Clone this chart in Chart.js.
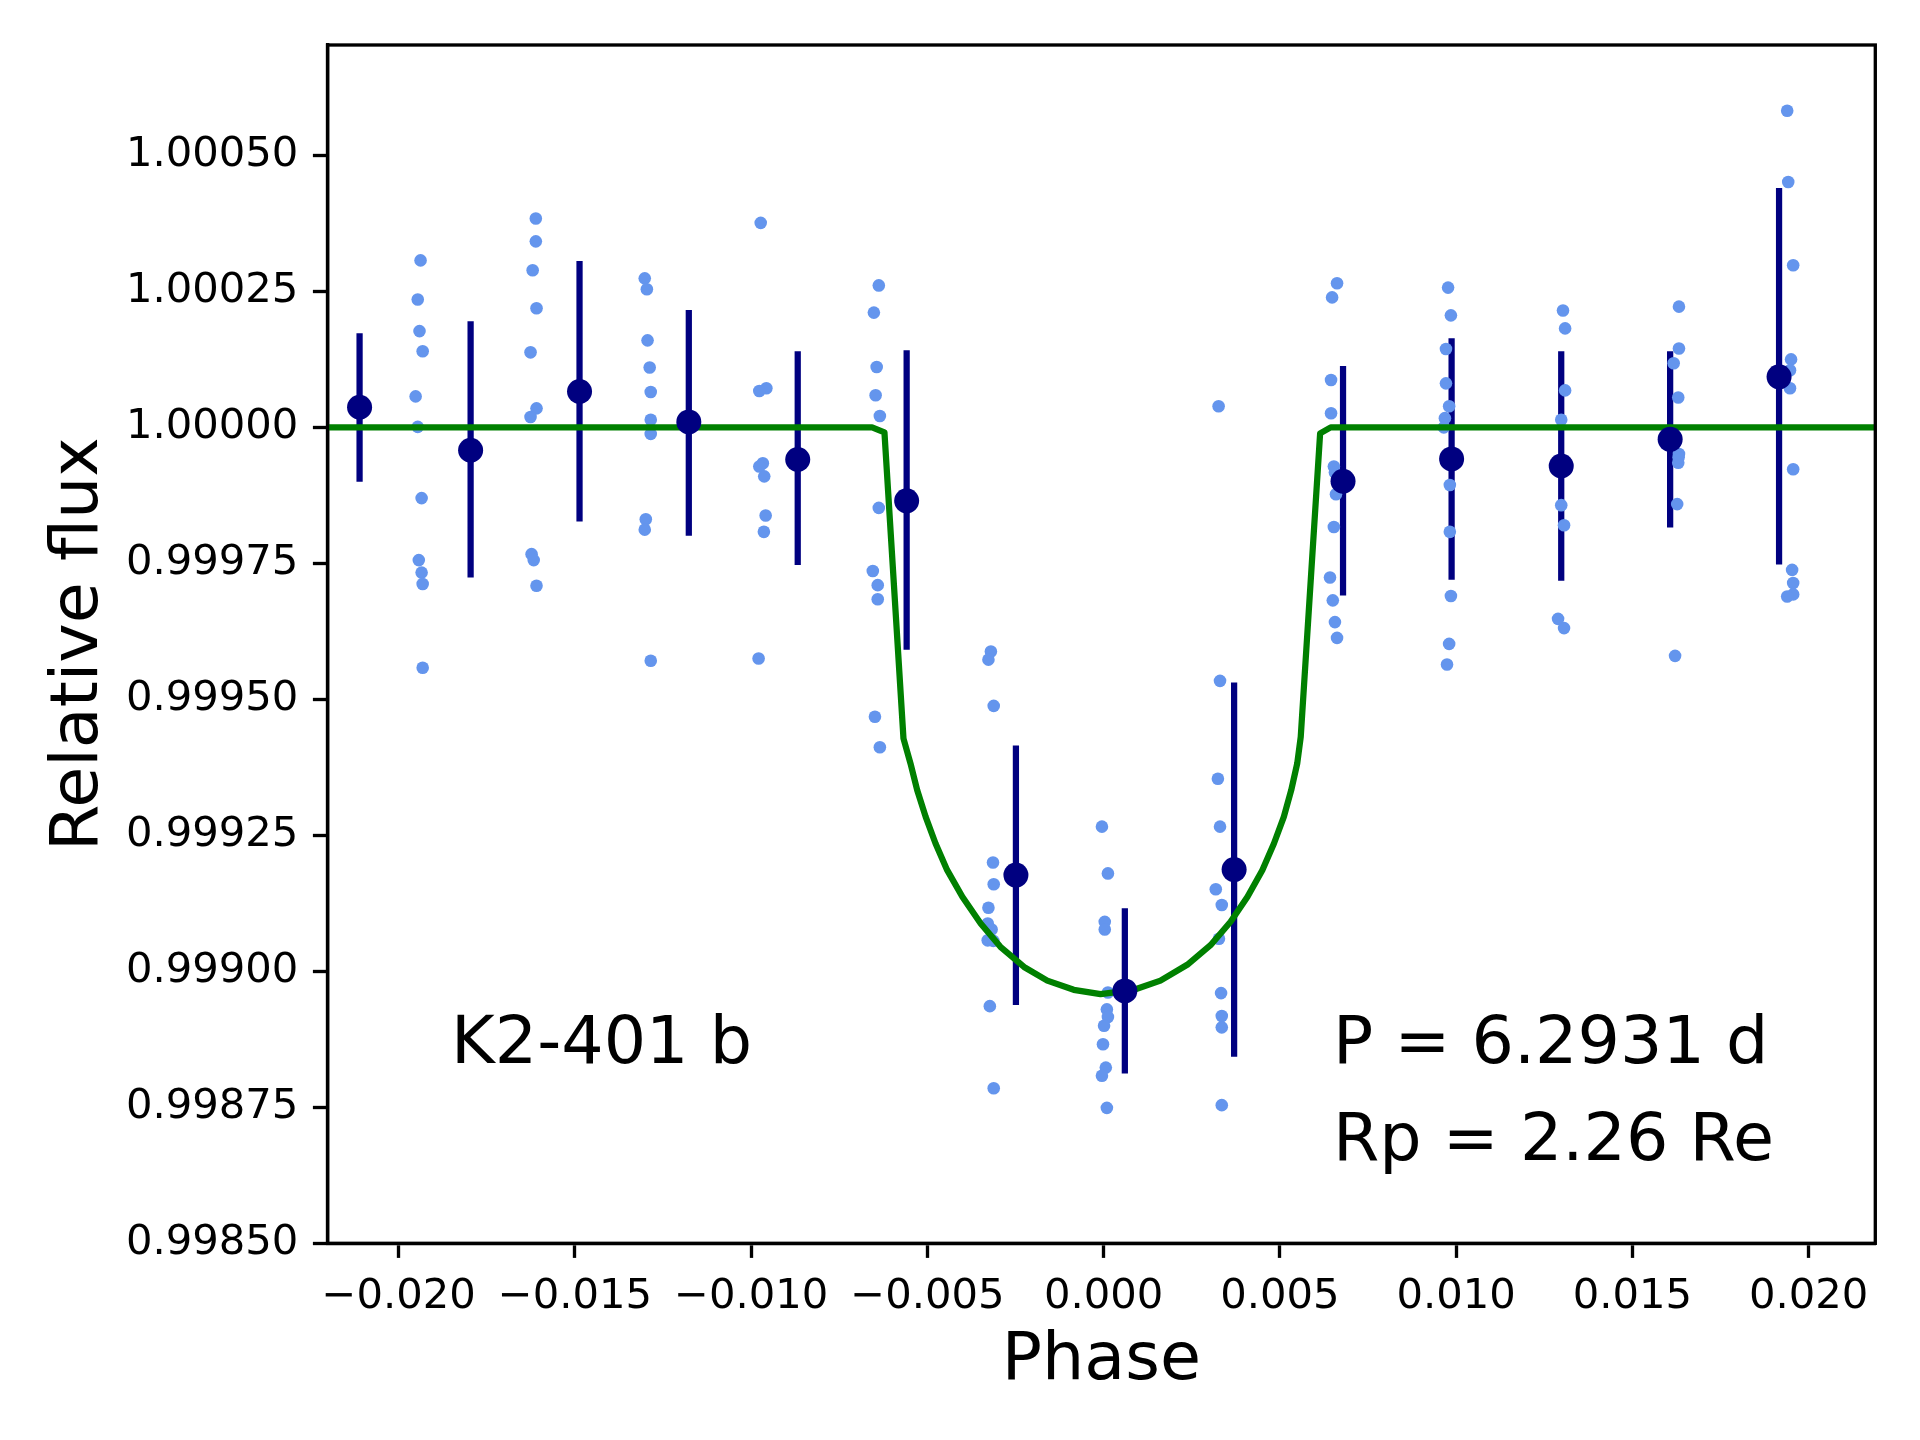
<!DOCTYPE html>
<html>
<head>
<meta charset="utf-8">
<script src="https://cdn.jsdelivr.net/npm/chart.js@4.4.1/dist/chart.umd.min.js"></script>
<style>html,body{margin:0;padding:0;background:#fff}canvas{display:block}</style>
</head>
<body>
<canvas id="lc" width="1920" height="1440" style="width:1920px;height:1440px"></canvas>
<script>
// K2-401 b folded light curve
const xTicks=[-0.02,-0.015,-0.01,-0.005,0,0.005,0.01,0.015,0.02];
const yTicks=[0.9985,0.99875,0.999,0.99925,0.9995,0.99975,1,1.00025,1.0005];

// individual points (light blue)
const ptPhase=[
 -0.01938,-0.01946,-0.01941,-0.01932,-0.01952,-0.01946,-0.01935,-0.01943,-0.01935,-0.01932,-0.01932,
 -0.01611,-0.01611,-0.01620,-0.01609,-0.01626,-0.01609,-0.01626,-0.01623,-0.01617,-0.01609,
 -0.01302,-0.01296,-0.01294,-0.01288,-0.01285,-0.01285,-0.01285,-0.01299,-0.01302,-0.01285,
 -0.00973,-0.00957,-0.00977,-0.00967,-0.00977,-0.00963,-0.00959,-0.00964,-0.00979,
 -0.00638,-0.00652,-0.00644,-0.00647,-0.00635,-0.00638,-0.00655,-0.00641,-0.00641,-0.00649,-0.00635,
 -0.00320,-0.00327,-0.00312,-0.00314,-0.00312,-0.00327,-0.00329,-0.00318,-0.00329,-0.00313,-0.00323,-0.00312,
 -0.00005,0.00012,0.00003,0.00003,0.00012,0.00009,0.00012,0.00001,-0.00002,0.00006,-0.00005,0.00009,
 0.00326,0.00330,0.00324,0.00330,0.00318,0.00335,0.00327,0.00333,0.00335,0.00335,0.00335,
 0.00662,0.00648,0.00645,0.00645,0.00653,0.00656,0.00659,0.00653,0.00642,0.00650,0.00656,0.00662,
 0.00977,0.00985,0.00971,0.00971,0.00980,0.00968,0.00965,0.00982,0.00982,0.00985,0.00980,0.00974,
 0.01303,0.01309,0.01309,0.01298,0.01298,0.01306,0.01289,0.01306,
 0.01632,0.01632,0.01617,0.01630,0.01632,0.01630,0.01631,0.01627,0.01621,
 0.01939,0.01942,0.01956,0.01950,0.01947,0.01947,0.01956,0.01953,0.01956,0.01956,0.01939
];
const ptFlux=[
 1.000307,1.000235,1.000177,1.000140,1.000057,1.000001,0.999870,0.999756,0.999733,0.999712,0.999558,
 1.000384,1.000342,1.000289,1.000219,1.000138,1.000035,1.000019,0.999767,0.999756,0.999709,
 1.000274,1.000254,1.000160,1.000110,1.000065,1.000014,0.999988,0.999831,0.999812,0.999571,
 1.000376,1.000072,1.000067,0.999934,0.999928,0.999910,0.999838,0.999808,0.999575,
 1.000261,1.000211,1.000111,1.000059,1.000021,0.999852,0.999736,0.999710,0.999684,0.999468,0.999412,
 0.999588,0.999573,0.999488,0.999200,0.999160,0.999117,0.999088,0.999077,0.999057,0.999056,0.998936,0.998785,
 0.999266,0.999180,0.999091,0.999077,0.998961,0.998930,0.998916,0.998900,0.998866,0.998823,0.998808,0.998749,
 1.000039,0.999534,0.999354,0.999266,0.999151,0.999122,0.999060,0.998960,0.998918,0.998897,0.998754,
 1.000265,1.000239,1.000087,1.000026,0.999928,0.999917,0.999877,0.999817,0.999724,0.999682,0.999642,0.999613,
 1.000257,1.000206,1.000144,1.000081,1.000039,1.000017,1.000000,0.999894,0.999808,0.999690,0.999602,0.999564,
 1.000215,1.000182,1.000068,1.000014,0.999857,0.999820,0.999648,0.999631,
 1.000222,1.000145,1.000118,1.000055,0.999951,0.999935,0.999945,0.999859,0.999580,
 1.000582,1.000451,1.000298,1.000125,1.000105,1.000072,0.999923,0.999738,0.999714,0.999693,0.999689
];

// binned points with error bars (navy)
const binPhase=[-0.02111,-0.01796,-0.01487,-0.01177,-0.00868,-0.00559,-0.00249,0.00060,0.00370,0.00679,0.00987,0.01298,0.01607,0.01916];
const binFlux=[1.000037,0.999958,1.000066,1.000010,0.999941,0.999865,0.999177,0.998964,0.999187,0.999901,0.999942,0.999929,0.999978,1.000093];
const binHi=[1.000173,1.000195,1.000306,1.000216,1.000140,1.000142,0.999415,0.999116,0.999531,1.000113,1.000164,1.000140,1.000140,1.000440];
const binLo=[0.999900,0.999724,0.999827,0.999801,0.999747,0.999591,0.998938,0.998812,0.998843,0.999691,0.999720,0.999718,0.999816,0.999748];

// transit model (green)
const modelPhase=[-0.0225,-0.00657,-0.00622,-0.00568,-0.00548,-0.00529,-0.00505,-0.00477,-0.00444,-0.00401,-0.00349,-0.00293,-0.00226,-0.00160,-0.00085,-0.00009,
 0.00086,0.00161,0.00237,0.00303,0.00360,0.00408,0.00450,0.00483,0.00511,0.00532,0.00549,0.00559,0.00614,0.00644,0.0225];
const modelFlux=[1,1,0.999991,0.999428,0.999382,0.999333,0.999284,0.999235,0.999186,0.999137,0.999088,0.999045,0.999008,0.998983,0.998966,0.998958,
 0.998966,0.998983,0.999012,0.999048,0.999091,0.999137,0.999186,0.999235,0.999284,0.999333,0.999382,0.999431,0.999989,1,1];

function fmtX(v){const s=Math.abs(v).toFixed(3);return v<-1e-9?'\u2212'+s:s}

const errData=[];
binPhase.forEach((p,i)=>{errData.push({x:p,y:binLo[i]},{x:p,y:binHi[i]},{x:p,y:null})});

const decor={
  id:'decor',
  beforeDraw(c){const g=c.ctx;g.save();g.fillStyle='#fff';g.fillRect(0,0,c.width,c.height);g.restore()},
  afterDraw(c){
    const g=c.ctx,a=c.chartArea;
    g.save();
    g.strokeStyle='#000';g.lineWidth=3.33;
    g.strokeRect(a.left,a.top,a.right-a.left,a.bottom-a.top);
    g.fillStyle='#000';g.font='66.7px "DejaVu Sans"';g.textBaseline='alphabetic';
    g.textAlign='left';
    g.fillText('K2-401 b',451,1063);
    g.fillText('P = 6.2931 d',1333,1063);
    g.fillText('Rp = 2.26 Re',1333,1160);
    g.textAlign='center';
    g.fillText('Phase',(a.left+a.right)/2,1379);
    g.translate(97,(a.top+a.bottom)/2);g.rotate(-Math.PI/2);
    g.fillText('Relative flux',0,0);
    g.restore();
  }
};

const axisStyle={
  grid:{drawOnChartArea:false,drawTicks:true,tickLength:14.6,tickWidth:3.33,tickColor:'#000'},
  border:{display:true,color:'#000',width:3.33}
};

new Chart(document.getElementById('lc'),{
  type:'scatter',
  data:{datasets:[
    {label:'binned',data:binPhase.map((p,i)=>({x:p,y:binFlux[i]})),pointRadius:12.5,pointBackgroundColor:'#000080',pointBorderWidth:0,showLine:false},
    {label:'model',data:modelPhase.map((p,i)=>({x:p,y:modelFlux[i]})),showLine:true,borderColor:'#008000',borderWidth:6.25,pointRadius:0,fill:false,tension:0,borderJoinStyle:'round'},
    {label:'points',data:ptPhase.map((p,i)=>({x:p,y:ptFlux[i]})),pointRadius:6.3,pointBackgroundColor:'#6495ED',pointBorderWidth:0,showLine:false},
    {label:'errors',data:errData,showLine:true,spanGaps:false,borderColor:'#000080',borderWidth:6.25,pointRadius:0,borderCapStyle:'butt'}
  ]},
  options:{
    responsive:false,devicePixelRatio:1,animation:false,events:[],
    layout:{padding:{top:45,right:44.7,left:0,bottom:0}},
    plugins:{legend:{display:false},tooltip:{enabled:false}},
    scales:{
      x:{type:'linear',min:-0.02202,max:0.02189,...axisStyle,
        afterBuildTicks:s=>{s.ticks=xTicks.map(v=>({value:v}))},
        afterFit:s=>{s.height=196.7},
        ticks:{color:'#000',font:{family:'DejaVu Sans',size:41.7},padding:14.6,maxRotation:0,autoSkip:false,callback:v=>fmtX(v)}},
      y:{type:'linear',min:0.9985,max:1.000703,...axisStyle,
        afterBuildTicks:s=>{s.ticks=yTicks.map(v=>({value:v}))},
        afterFit:s=>{s.width=327.5},
        ticks:{color:'#000',font:{family:'DejaVu Sans',size:41.7},padding:14.6,autoSkip:false,callback:v=>v.toFixed(5)}}
    }
  },
  plugins:[decor]
});
</script>
</body>
</html>
